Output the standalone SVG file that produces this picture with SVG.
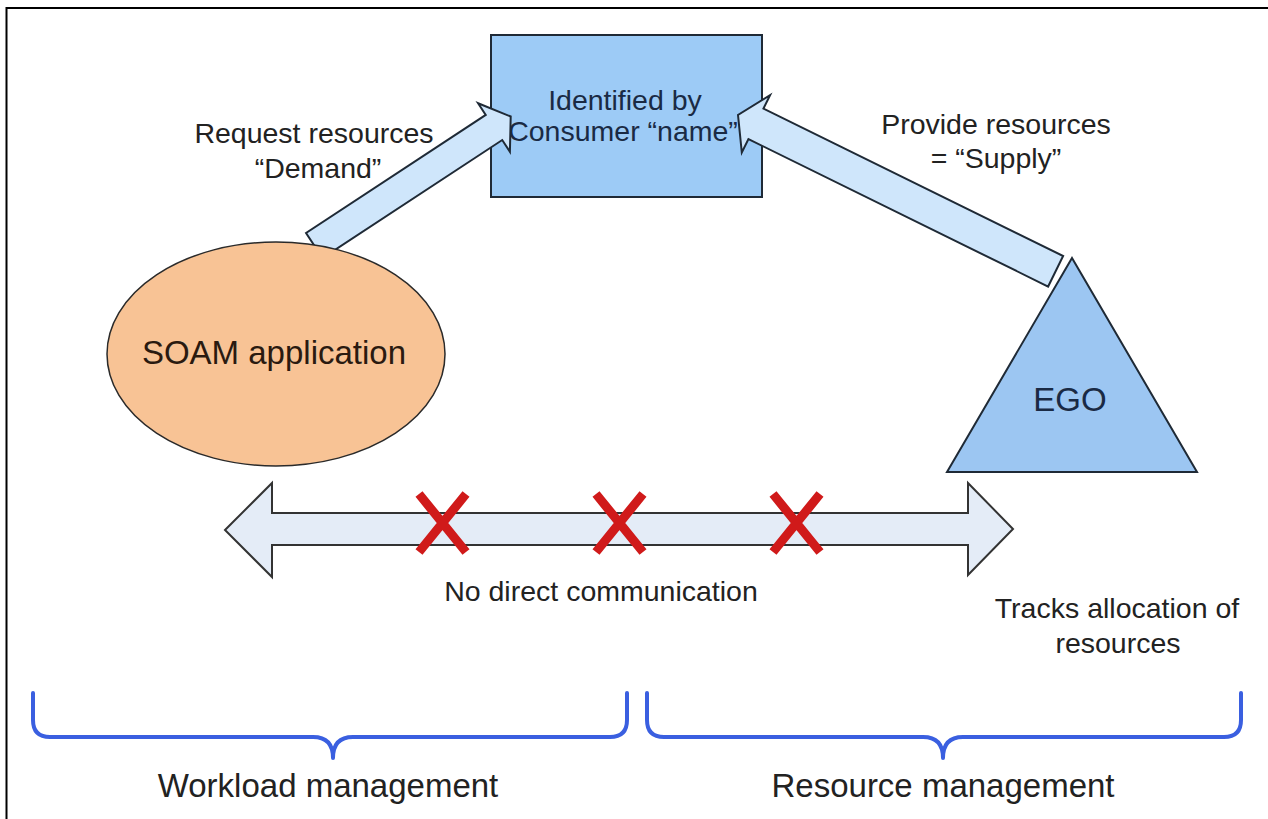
<svg xmlns="http://www.w3.org/2000/svg" width="1268" height="819" viewBox="0 0 1268 819">
<style>
.lbl{font-family:"Liberation Sans",Arial,sans-serif;fill:#222;text-anchor:middle}
.blk{stroke:#1f2a36;stroke-width:2}
.flow{fill:#cfe6fb;stroke:#1f2a36;stroke-width:2;stroke-linejoin:miter}
.brace{fill:none;stroke:#3a5fe0;stroke-width:4;stroke-linecap:round;stroke-linejoin:round}
.x{stroke:#d01a1a;stroke-width:9;stroke-linecap:butt}
</style>
<rect width="1268" height="819" fill="#ffffff"/>
<g id="frame" stroke="#000" stroke-width="2" fill="none">
<path d="M6.5,819 V8 H1268"/>
</g>
<g id="consumer">
<rect x="491" y="35" width="271" height="162" fill="#9dcbf6" class="blk"/>
<text class="lbl" x="625" y="110" font-size="28.5" style="fill:#1a2a44">Identified by</text>
<text class="lbl" x="623" y="141" font-size="28.5" style="fill:#1a2a44">Consumer “name”</text>
</g>
<g id="connectors">
<g id="demand-arrow" transform="translate(510.7,116.5) rotate(-33.3)">
<polygon class="flow" points="0,0 -20,-29 -20,-15 -235,-15 -235,15 -20,15 -20,29"/>
</g>
<g id="supply-arrow" transform="translate(738,115) rotate(206.2)">
<polygon class="flow" points="0,0 -20,-32 -20,-17 -354,-17 -354,17 -20,17 -20,32"/>
</g>
<g id="no-comm-arrow">
<polygon points="225,530 272,483 272,513 968,513 968,483 1013,529 968,575 968,545 272,545 272,577" fill="#e4ecf7" stroke="#333" stroke-width="2"/>
</g>
</g>
<g id="soam">
<ellipse cx="276" cy="354" rx="169" ry="112" fill="#f8c395" stroke="#2a2a2a" stroke-width="1.5"/>
<text class="lbl" x="274" y="364" font-size="33" style="fill:#2a1a10">SOAM application</text>
</g>
<g id="ego">
<polygon points="1072,258 1197,472 947,472" fill="#9cc6f2" class="blk"/>
<text class="lbl" x="1070" y="411" font-size="33" style="fill:#1a2a44">EGO</text>
</g>
<g id="x-marks">
<path class="x" d="M419,494 L466,552 M466,494 L419,552"/>
<path class="x" d="M596,494 L643,552 M643,494 L596,552"/>
<path class="x" d="M773,494 L820,552 M820,494 L773,552"/>
</g>
<g id="labels">
<text class="lbl" x="314" y="143" font-size="28.5">Request resources</text>
<text class="lbl" x="318" y="178" font-size="28.5">“Demand”</text>
<text class="lbl" x="996" y="134" font-size="28.5">Provide resources</text>
<text class="lbl" x="996" y="168" font-size="28.5">= “Supply”</text>
<text class="lbl" x="601" y="601" font-size="28.5">No direct communication</text>
<text class="lbl" x="1117" y="618" font-size="28.5">Tracks allocation of</text>
<text class="lbl" x="1118" y="653" font-size="28.5">resources</text>
</g>
<g id="workload">
<path class="brace" d="M33,693 V720 Q33,737 50,737 H313 Q333,737 333,758 Q333,737 353,737 H610 Q627,737 627,720 V693"/>
<text class="lbl" x="328" y="797" font-size="33">Workload management</text>
</g>
<g id="resource">
<path class="brace" d="M647,693 V720 Q647,737 664,737 H923 Q943,737 943,758 Q943,737 963,737 H1224 Q1241,737 1241,720 V693"/>
<text class="lbl" x="943" y="797" font-size="33">Resource management</text>
</g>
</svg>
